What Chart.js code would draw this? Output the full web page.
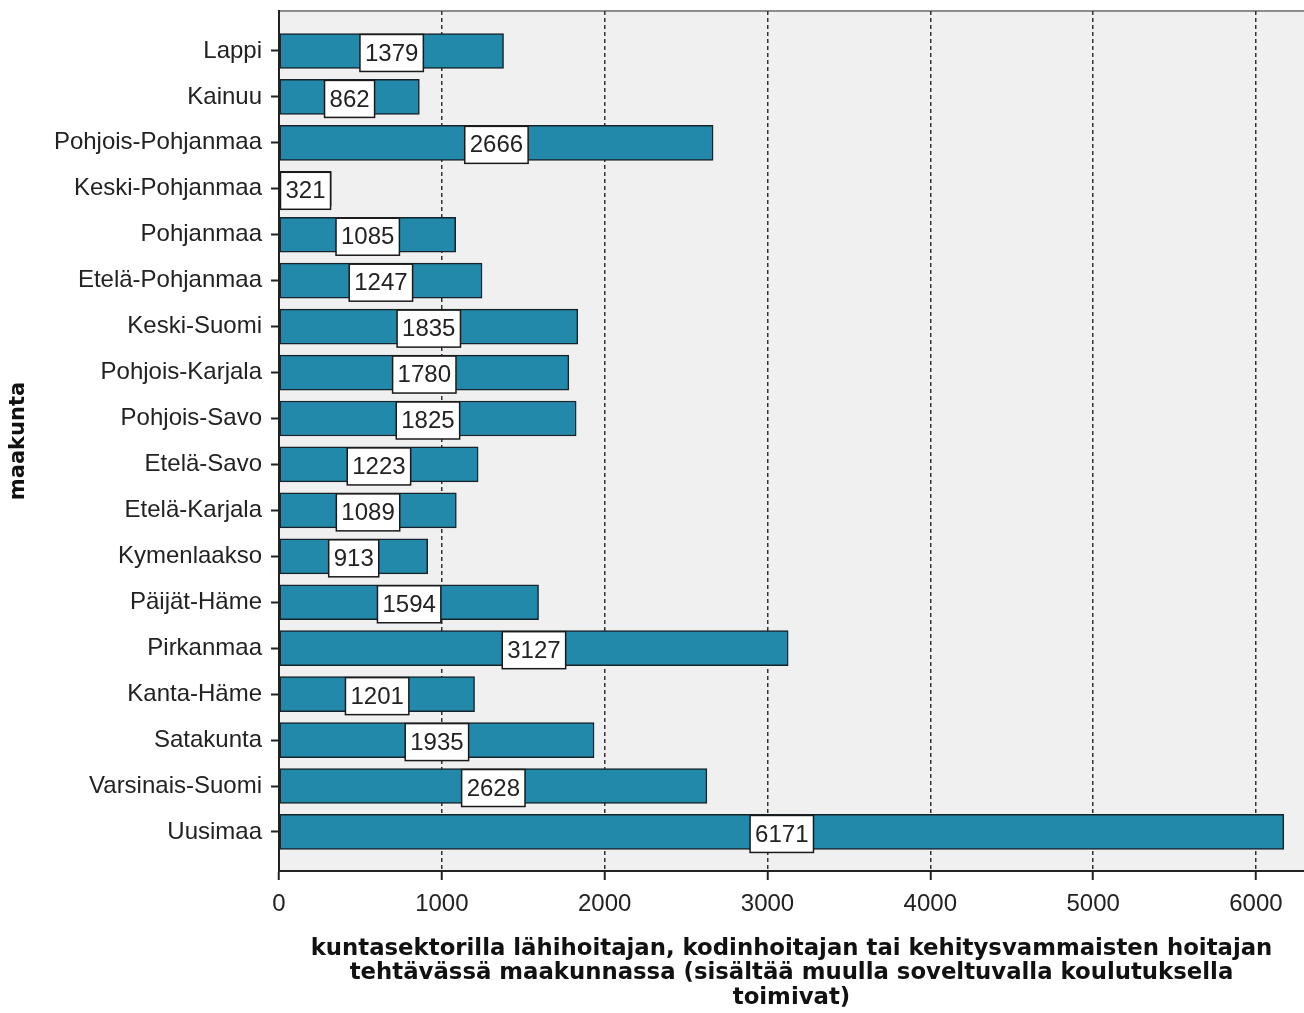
<!DOCTYPE html>
<html>
<head>
<meta charset="utf-8">
<script src="https://cdn.jsdelivr.net/npm/chart.js@4/dist/chart.umd.min.js"></script>
<style>
  html, body { margin: 0; padding: 0; background: #ffffff; }
  #wrap { width: 1304px; height: 1013px; }
</style>
</head>
<body>
<div id="wrap"><canvas id="c" width="1304" height="1013"></canvas></div>
<script>
const categories = ["Lappi", "Kainuu", "Pohjois-Pohjanmaa", "Keski-Pohjanmaa", "Pohjanmaa",
  "Etelä-Pohjanmaa", "Keski-Suomi", "Pohjois-Karjala", "Pohjois-Savo", "Etelä-Savo",
  "Etelä-Karjala", "Kymenlaakso", "Päijät-Häme", "Pirkanmaa", "Kanta-Häme", "Satakunta",
  "Varsinais-Suomi", "Uusimaa"];
const counts = [1379, 862, 2666, 321, 1085, 1247, 1835, 1780, 1825, 1223, 1089, 913, 1594, 3127, 1201, 1935, 2628, 6171];
const xTicks = [0, 1000, 2000, 3000, 4000, 5000, 6000];
const xTitle = ["kuntasektorilla lähihoitajan, kodinhoitajan tai kehitysvammaisten hoitajan",
  "tehtävässä maakunnassa (sisältää muulla soveltuvalla koulutuksella",
  "toimivat)"];
const yTitle = "maakunta";

const FONT = "'Liberation Sans', Arial, sans-serif";
const BOLD = "'DejaVu Sans', sans-serif";

const plotBg = {
  id: 'plotBg',
  beforeDraw(chart) {
    const {ctx, chartArea: a} = chart;
    ctx.save();
    ctx.fillStyle = '#f0f0f0';
    ctx.fillRect(a.left, a.top, a.right - a.left, a.bottom - a.top);
    ctx.strokeStyle = '#8c8c8c';
    ctx.lineWidth = 2;
    ctx.beginPath();
    ctx.moveTo(a.left, a.top);
    ctx.lineTo(a.right, a.top);
    ctx.stroke();
    ctx.restore();
  }
};

const valueBoxes = {
  id: 'valueBoxes',
  afterDatasetsDraw(chart) {
    const {ctx} = chart;
    const meta = chart.getDatasetMeta(0);
    ctx.save();
    ctx.font = "24px " + FONT;
    ctx.textAlign = 'center';
    ctx.textBaseline = 'middle';
    meta.data.forEach((bar, i) => {
      const txt = String(counts[i]);
      const cx = (bar.x + bar.base) / 2;
      const cy = bar.y + 2;
      const w = ctx.measureText(txt).width + 10;
      const h = 37;
      ctx.fillStyle = '#ffffff';
      ctx.fillRect(cx - w / 2, cy - h / 2, w, h);
      ctx.strokeStyle = '#1a1a1a';
      ctx.lineWidth = 1.5;
      ctx.strokeRect(cx - w / 2, cy - h / 2, w, h);
      ctx.fillStyle = '#222222';
      ctx.fillText(txt, cx, cy + 1);
    });
    ctx.restore();
  }
};

new Chart(document.getElementById('c'), {
  type: 'bar',
  data: {
    datasets: [{
      data: counts.map((v, i) => ({x: v, y: i})),
      backgroundColor: '#2389ab',
      borderColor: '#16232a',
      borderWidth: 1.5,
      borderSkipped: false,
      barThickness: 35
    }]
  },
  options: {
    indexAxis: 'y',
    responsive: false,
    animation: false,
    layout: { padding: { top: 11, left: 0, right: 0, bottom: 0 } },
    plugins: { legend: { display: false }, tooltip: { enabled: false } },
    scales: {
      x: {
        type: 'linear',
        position: 'bottom',
        min: 0,
        max: 6295,
        afterBuildTicks(s) { s.ticks = xTicks.map(v => ({value: v})); },
        afterFit(s) { s.height = 142; s.paddingLeft = 0; s.paddingRight = 0; },
        ticks: {
          font: { family: FONT, size: 24 }, color: '#222', padding: 10, maxRotation: 0,
          callback: (v) => String(v)
        },
        grid: {
          drawOnChartArea: true,
          drawTicks: true,
          tickLength: 9,
          color: (c) => c.index === 0 ? 'rgba(0,0,0,0)' : '#333333',
          lineWidth: 1.5,
          tickColor: '#222',
          tickWidth: 2
        },
        border: { display: true, color: '#222', width: 2, dash: [4, 3] },
        title: {
          display: true,
          text: xTitle,
          font: { family: BOLD, size: 22.8, weight: 'bold', lineHeight: 1.07 },
          color: '#111',
          padding: { top: 0, bottom: 3 }
        }
      },
      y: {
        type: 'linear',
        reverse: true,
        offset: false,
        min: -0.87,
        max: 17.85,
        afterBuildTicks(s) { s.ticks = categories.map((_, i) => ({value: i})); },
        afterFit(s) { s.width = 279; s.paddingTop = 0; s.paddingBottom = 0; },
        ticks: {
          font: { family: FONT, size: 24 },
          color: '#222',
          padding: 9,
          autoSkip: false,
          callback: (v) => categories[v]
        },
        grid: {
          offset: false,
          drawOnChartArea: false,
          drawTicks: true,
          tickLength: 8,
          tickColor: '#222',
          tickWidth: 2
        },
        border: { display: true, color: '#222', width: 2 },
        title: {
          display: true,
          text: yTitle,
          font: { family: BOLD, size: 21, weight: 'bold' },
          color: '#111',
          padding: { top: 6, bottom: 0 }
        }
      }
    }
  },
  plugins: [plotBg, valueBoxes]
});
</script>
</body>
</html>
